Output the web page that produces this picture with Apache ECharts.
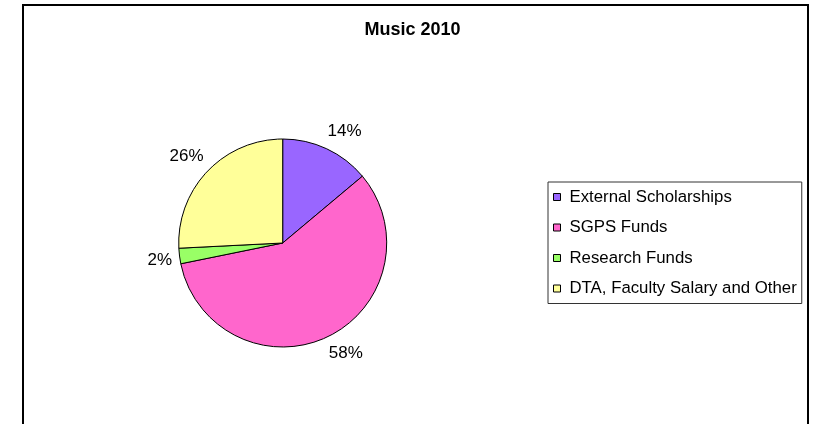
<!DOCTYPE html>
<html>
<head>
<meta charset="utf-8">
<script src="https://cdn.jsdelivr.net/npm/echarts@6/dist/echarts.min.js"></script>
<style>
    html, body { margin: 0; padding: 0; background: #fff; }
    #chart { width: 825px; height: 424px; }
</style>
</head>
<body>
<div id="chart"></div>
<script>
// funding categories and their share of the total (%)
var categories = ["External Scholarships", "SGPS Funds", "Research Funds", "DTA, Faculty Salary and Other"];
var shares = [13.9, 57.9, 2.4, 25.8];
var sliceColors = ["#9966FF", "#FF66CC", "#99FF66", "#FFFF99"];

var font = "'Liberation Sans', Arial, sans-serif";

// pie geometry
var cx = 282.7, cy = 243, radius = 104, labelR = 114;

// middle angle of each slice, clockwise from 12 o'clock
var total = shares.reduce(function(a, b) { return a + b; }, 0);
var midAngles = [];
var acc = 0;
shares.forEach(function(v) {
    midAngles.push((acc + v / 2) / total * 2 * Math.PI);
    acc += v;
});

function clamp(v) {
    return Math.max(-1, Math.min(1, v * 3));
}

var myChart = echarts.init(document.getElementById("chart"));
var option = {
    animation: false,
    backgroundColor: "#fff",
    title: {
        text: "Music 2010",
        left: "center",
        top: 21,
        padding: 0,
        textStyle: {
            fontFamily: font,
            fontSize: 18,
            fontWeight: "bold",
            color: "#000"
        }
    },
    legend: {
        orient: "vertical",
        left: 548,
        top: 182,
        padding: [6, 5, 6, 5],
        borderColor: "#333",
        borderWidth: 1,
        icon: "rect",
        itemWidth: 7,
        itemHeight: 7,
        itemGap: 12.5,
        itemStyle: { borderColor: "#000", borderWidth: 1 },
        textStyle: {
            fontFamily: font,
            fontSize: 16.8,
            lineHeight: 18,
            color: "#000",
            padding: [0, 0, 0, 4]
        },
        data: categories
    },
    graphic: [{
        // outer chart frame (runs off the bottom edge)
        type: "rect",
        silent: true,
        z: -1,
        shape: { x: 23, y: 5, width: 785, height: 460 },
        style: { fill: null, stroke: "#000", lineWidth: 2 }
    }],
    series: [{
        type: "pie",
        center: [cx, cy],
        radius: radius,
        startAngle: 90,
        clockwise: true,
        emphasis: { disabled: true },
        itemStyle: { borderColor: "#000", borderWidth: 1 },
        label: {
            position: "outside",
            fontFamily: font,
            fontSize: 17,
            color: "#000",
            formatter: function(p) {
                return Math.round(p.percent) + "%";
            }
        },
        labelLine: { show: false },
        // put each label just outside the rim, corner towards the slice
        labelLayout: function(p) {
            var a = midAngles[p.dataIndex];
            var s = Math.sin(a), c = Math.cos(a);
            var w = p.labelRect.width;
            return {
                x: cx + labelR * s + w / 2 * clamp(s) * 0.8,
                y: cy - labelR * c - 8 * clamp(c),
                align: "center",
                verticalAlign: "middle"
            };
        },
        data: categories.map(function(name, i) {
            return { name: name, value: shares[i], itemStyle: { color: sliceColors[i] } };
        })
    }]
};
myChart.setOption(option);
</script>
</body>
</html>
